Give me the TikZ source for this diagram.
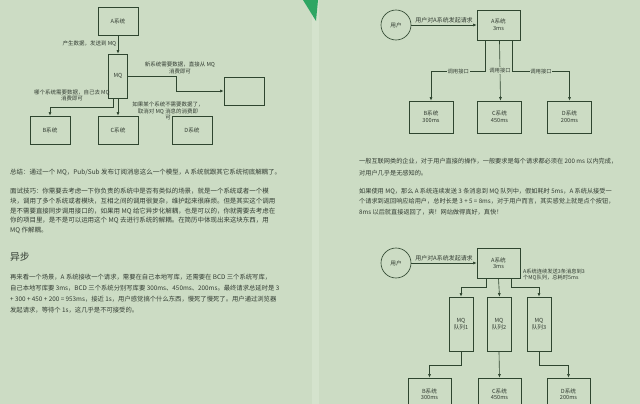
\documentclass[tikz,border=0pt]{standalone}
\usepackage{fontspec}
\setmainfont{Noto Sans CJK SC}
\usepackage{tikz}
\usetikzlibrary{arrows.meta, positioning, calc}
\definecolor{pagebg}{HTML}{CCDCC4}
\definecolor{stripbg}{HTML}{D4E3CD}
\definecolor{linecol}{HTML}{2E452F}
\definecolor{textcol}{HTML}{333D33}
\definecolor{tagcol}{HTML}{2EA663}

\begin{document}
\begin{tikzpicture}[
  x=0.05cm, y=-0.05cm,
  every node/.style={text=textcol},
  sys/.style={
    rectangle, draw=linecol, line width=0.9pt,
    minimum width=2.0cm, minimum height=1.4cm, align=center,
    inner sep=0pt, font=\fontsize{8}{9.5}\selectfont
  },
  mqbox/.style={
    rectangle, draw=linecol, line width=0.9pt,
    minimum width=1.2cm, minimum height=2.7cm, align=center,
    inner sep=0pt, font=\fontsize{8}{9.5}\selectfont
  },
  userc/.style={
    circle, draw=linecol, line width=0.9pt,
    minimum size=1.5cm, inner sep=0pt, font=\fontsize{8}{9.5}\selectfont
  },
  lbl/.style={
    align=center, inner sep=0pt, font=\fontsize{7.8}{9.3}\selectfont
  },
  calltag/.style={
    fill=pagebg, inner sep=1pt, font=\fontsize{7.5}{9}\selectfont
  },
  para/.style={
    anchor=north west, align=left, inner sep=0pt
  },
  arr/.style={
    -{Latex[length=1.8mm,width=1.5mm]}, line width=0.9pt, draw=linecol
  }
]

% Pages
\fill[pagebg] (0,0) rectangle (640,404);
\useasboundingbox (0,0) rectangle (640,404);
\fill[stripbg] (312,0) rectangle (319,404);
\fill[tagcol] (303,0) -- (318,0) -- (316,21) -- cycle;

% Left page: decoupling diagram
\node[sys] (aL) at (118,21) {A系统};
\node[mqbox, minimum width=0.95cm, minimum height=2.2cm] (mqL) at (118,76) {MQ};
\node[sys] (newL) at (244,91) {};
\node[sys] (bL) at (50,130) {B系统};
\node[sys] (cL) at (118,130) {C系统};
\node[sys] (dL) at (192,130) {D系统};

\draw[arr] (aL) -- node[lbl, left=2pt, pos=0.45] {产生数据，发送到 MQ} (mqL);
\draw[arr] (mqL.east) -- ++(48,0) |- (newL.west);
\draw[arr] ([xshift=-0.25cm]mqL.south) -- ++(0,9) -| (bL.north);
\draw[arr] (mqL.south) -- (cL.north);

\node[lbl] (newlbl) at (180,68) {新系统需要数据，直接从 MQ\\消费即可};
\node[lbl] (anylbl) at (72,95.5) {哪个系统需要数据，自己去 MQ\\消费即可};
\node[lbl] (droplbl) at (168,111) {如果某个系统不需要数据了，\\取消对 MQ 消息的消费即\\可};

% Left page: text
\node[para, font=\fontsize{9.2}{13.6}\selectfont] (summary) at (10,169.3)
{总结：通过一个 MQ，Pub/Sub 发布订阅消息这么一个模型，A 系统就跟其它系统彻底解耦了。};

\node[para, font=\fontsize{9.2}{13.6}\selectfont] (interview) at (10,188.3)
{面试技巧：你需要去考虑一下你负责的系统中是否有类似的场景，就是一个系统或者一个模\\
块，调用了多个系统或者模块，互相之间的调用很复杂，维护起来很麻烦。但是其实这个调用\\
是不需要直接同步调用接口的，如果用 MQ 给它异步化解耦，也是可以的，你就需要去考虑在\\
你的项目里，是不是可以运用这个 MQ 去进行系统的解耦。在简历中体现出来这块东西，用\\
MQ 作解耦。};

\node[para, font=\fontsize{14}{16}\selectfont] (async) at (10,252) {异步};

\node[para, font=\fontsize{9}{15.6}\selectfont] (scene) at (10,273.8)
{再来看一个场景，A 系统接收一个请求，需要在自己本地写库，还需要在 BCD 三个系统写库，\\
自己本地写库要 3ms，BCD 三个系统分别写库要 300ms、450ms、200ms。最终请求总延时是 3\\
+ 300 + 450 + 200 = 953ms，接近 1s，用户感觉搞个什么东西，慢死了慢死了。用户通过浏览器\\
发起请求，等待个 1s，这几乎是不可接受的。};

% Right page: synchronous calls
\node[userc] (user1) at (396,25) {用户};
\node[sys, minimum width=2.15cm, minimum height=1.5cm] (a1) at (498.5,25) {A系统\\3ms};
\node[sys, minimum width=2.2cm, minimum height=1.6cm] (b1) at (431,117) {B系统\\300ms};
\node[sys, minimum width=2.2cm, minimum height=1.6cm] (c1) at (499.5,117) {C系统\\450ms};
\node[sys, minimum width=2.2cm, minimum height=1.6cm] (d1) at (569.5,117) {D系统\\200ms};

\draw[arr] (user1) -- node[lbl, above=2pt, font=\fontsize{8.5}{10}\selectfont] {用户对A系统发起请求} (a1);
\draw[arr] ([xshift=-0.65cm]a1.south) -- ++(0,31) -| node[calltag, pos=0.25] {调用接口} (b1.north);
\draw[arr] ([xshift=0.05cm]a1.south) -- node[calltag] {调用接口} ([xshift=0.05cm]c1.north);
\draw[arr] ([xshift=0.7cm]a1.south) -- ++(0,31) -| node[calltag, pos=0.25] {调用接口} (d1.north);

% Right page: text
\node[para, font=\fontsize{8.8}{17.4}\selectfont] (latency) at (359,157.8)
{一般互联网类的企业，对于用户直接的操作，一般要求是每个请求都必须在 200 ms 以内完成，\\
对用户几乎是无感知的。};

\node[para, font=\fontsize{8.8}{14.9}\selectfont] (usemq) at (359,187.8)
{如果使用 MQ，那么 A 系统连续发送 3 条消息到 MQ 队列中，假如耗时 5ms，A 系统从接受一\\
个请求到返回响应给用户，总时长是 3 + 5 = 8ms，对于用户而言，其实感觉上就是点个按钮，\\
8ms 以后就直接返回了，爽！网站做得真好，真快！};

% Right page: asynchronous via MQ
\node[userc] (user2) at (396,263) {用户};
\node[sys, minimum width=2.15cm, minimum height=1.5cm] (a2) at (498.5,263) {A系统\\3ms};
\node[lbl, anchor=west, align=left, font=\fontsize{7.5}{9}\selectfont] (sendlbl) at (523,275)
{A系统连续发送3条消息到3\\个MQ队列，总耗时5ms};

\node[mqbox] (mq1) at (461,324) {MQ\\队列1};
\node[mqbox] (mq2) at (499,324) {MQ\\队列2};
\node[mqbox] (mq3) at (539,324) {MQ\\队列3};

\node[sys, minimum width=2.15cm, minimum height=1.6cm] (b2) at (429.5,394) {B系统\\300ms};
\node[sys, minimum width=2.15cm, minimum height=1.6cm] (c2) at (499.5,394) {C系统\\450ms};
\node[sys, minimum width=2.15cm, minimum height=1.6cm] (d2) at (568.5,394) {D系统\\200ms};

\draw[arr] (user2) -- node[lbl, above=2pt, font=\fontsize{8.5}{10}\selectfont] {用户对A系统发起请求} (a2);
\draw[arr] ([xshift=-0.6cm]a2.south) -- ++(0,9) -| (mq1.north);
\draw[arr] (a2.south) -- ([xshift=0.025cm]mq2.north);
\draw[arr] ([xshift=0.65cm]a2.south) -- ++(0,9) -| (mq3.north);

\draw[arr] (mq1.south) -- ++(0,14) -| (b2.north);
\draw[arr] (mq2.south) -- (c2.north);
\draw[arr] (mq3.south) -- ++(0,14) -| (d2.north);

\end{tikzpicture}
\end{document}
